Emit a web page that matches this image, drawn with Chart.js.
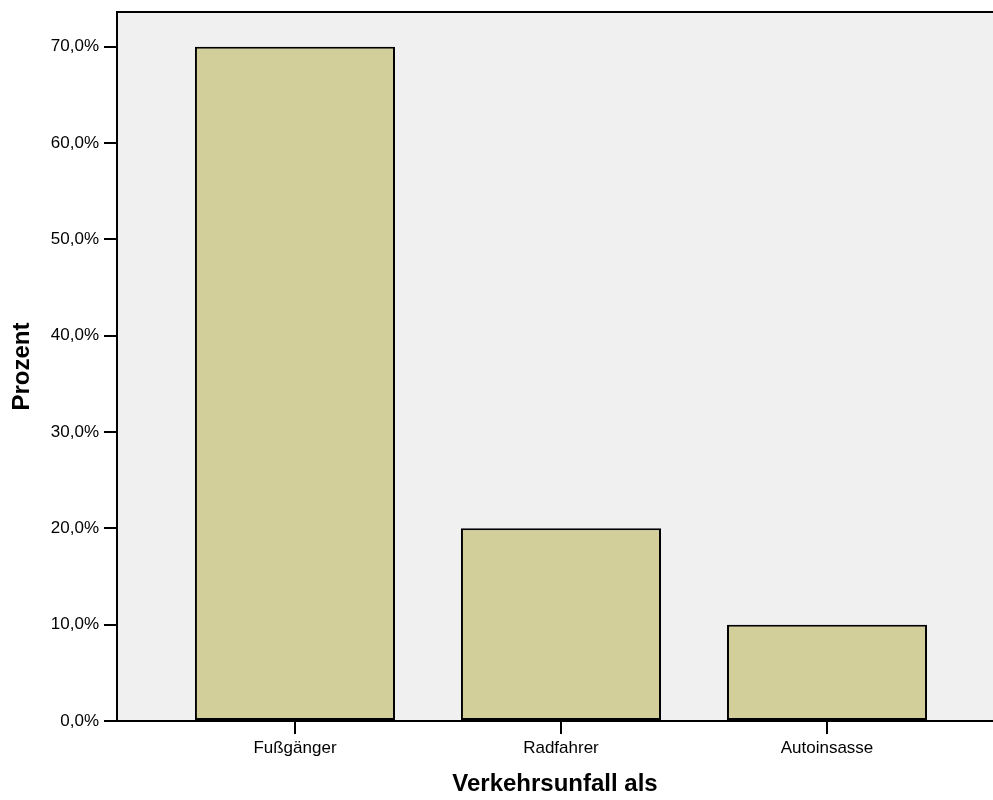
<!DOCTYPE html>
<html>
<head>
<meta charset="utf-8">
<script src="https://cdn.jsdelivr.net/npm/chart.js@4/dist/chart.umd.min.js"></script>
<style>
html,body{margin:0;padding:0;background:#fff;overflow:hidden;}
canvas{display:block;}
</style>
</head>
<body>
<canvas id="c" width="993" height="800"></canvas>
<script>
const categories = ["Fußgänger", "Radfahrer", "Autoinsasse"];
const percentValues = [70, 20, 10];
const yTickValues = [0, 10, 20, 30, 40, 50, 60, 70];
const xTitle = "Verkehrsunfall als";
const yTitle = "Prozent";

const FONT = "'Liberation Sans', Arial, sans-serif";

const plotFrame = {
  id: 'plotFrame',
  beforeDraw(chart) {
    const {ctx, chartArea: a} = chart;
    ctx.save();
    ctx.fillStyle = '#f0f0f0';
    ctx.fillRect(a.left, a.top, a.right - a.left, a.bottom - a.top);
    ctx.restore();
  },
  afterDraw(chart) {
    const {ctx, chartArea: a} = chart;
    ctx.save();
    ctx.strokeStyle = '#000';
    ctx.lineWidth = 2;
    ctx.beginPath();
    ctx.moveTo(a.left - 1, a.top);
    ctx.lineTo(a.right + 2, a.top);
    ctx.stroke();
    ctx.restore();
  }
};

new Chart(document.getElementById('c'), {
  type: 'bar',
  data: {
    datasets: [{
      data: categories.map((c, i) => ({x: i, y: percentValues[i]})),
      backgroundColor: '#d3cf9b',
      borderColor: '#000',
      borderWidth: 2,
      borderSkipped: false,
      categoryPercentage: 1,
      barPercentage: 0.752
    }]
  },
  options: {
    responsive: false,
    animation: false,
    layout: {padding: {top: 12, right: 0, left: 0, bottom: 0}},
    plugins: {legend: {display: false}, tooltip: {enabled: false}},
    scales: {
      x: {
        type: 'linear',
        offset: false,
        min: -0.669,
        max: 2.624,
        afterFit(s) { s.height = 79; s.paddingLeft = 0; s.paddingRight = 0; },
        afterBuildTicks(s) { s.ticks = categories.map((c, i) => ({value: i})); },
        ticks: {
          autoSkip: false,
          maxRotation: 0,
          padding: 4,
          color: '#000',
          font: {family: FONT, size: 17},
          callback: (v) => categories[v]
        },
        grid: {display: true, offset: false, drawOnChartArea: false, drawTicks: true, tickLength: 13, color: '#000', lineWidth: 2},
        border: {display: true, color: '#000', width: 2},
        title: {
          display: true, text: xTitle, color: '#000',
          font: {family: FONT, size: 24, weight: 'bold', lineHeight: 1.2},
          padding: {top: 0, bottom: 1}
        }
      },
      y: {
        min: 0,
        max: 73.6,
        afterFit(s) { s.width = 117; s.paddingTop = 0; s.paddingBottom = 0; },
        afterBuildTicks(s) { s.ticks = yTickValues.map(v => ({value: v})); },
        ticks: {
          padding: 5,
          color: '#000',
          font: {family: FONT, size: 17},
          callback: (v) => v.toFixed(1).replace('.', ',') + '%'
        },
        grid: {display: true, drawOnChartArea: false, drawTicks: true, tickLength: 13, color: '#000', lineWidth: 2},
        border: {display: true, color: '#000', width: 2},
        title: {
          display: true, text: yTitle, color: '#000',
          font: {family: FONT, size: 24, weight: 'bold', lineHeight: 1.2},
          padding: {top: 8, bottom: 0}
        }
      }
    }
  },
  plugins: [plotFrame]
});
</script>
</body>
</html>
